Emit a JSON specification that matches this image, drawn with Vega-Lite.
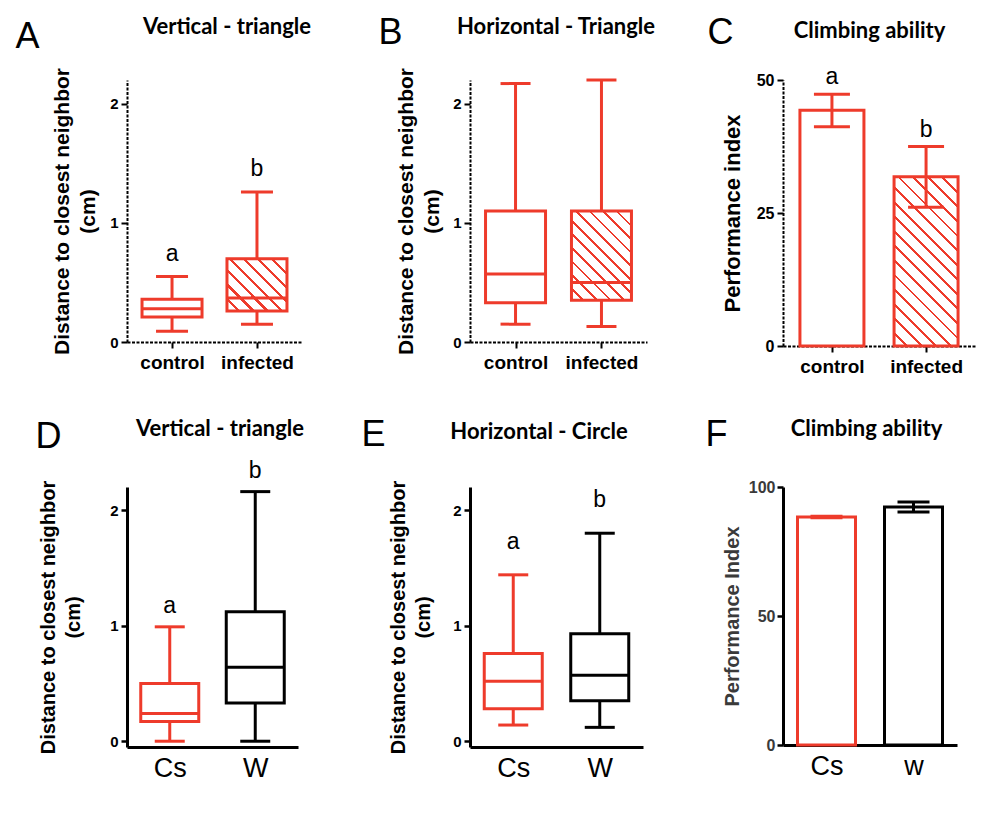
{
"$schema": "https://vega.github.io/schema/vega-lite/v6.json",
"background": "white",
"padding": {"left": 15, "top": 14, "right": 10, "bottom": 6},
"columns": 3,
"align": "each",
"spacing": {"row": 40, "column": 50},
"config": {"view": {"stroke": null}, "axis": {"grid": false, "domainColor": "black", "tickColor": "black", "labelColor": "black", "titleColor": "black"}},
"concat": [
{
"width": 175, "height": 262,
"data": {"values": [
{"group": "control", "min": 0.09, "q1": 0.21, "median": 0.28, "q3": 0.36, "max": 0.55, "sig": "a"},
{"group": "infected", "min": 0.15, "q1": 0.26, "median": 0.37, "q3": 0.70, "max": 1.26, "sig": "b"}]},
"resolve": {"axis": {"x": "independent"}},
"layer": [
{
"encoding": {"x": {"field": "group", "type": "nominal", "sort": null, "scale": {"type": "point", "padding": 0.53},
"axis": {"title": "A", "titleFont": "Liberation Sans", "titleFontSize": 36, "titleFontWeight": "normal", "titleX": -112, "titleY": -295, "titleAlign": "left", "titleBaseline": "alphabetic", "labelAngle": 0, "labelFont": "Liberation Sans", "labelFontSize": 19, "labelFontWeight": "bold", "labelPadding": 5, "tickSize": 6, "tickWidth": 2, "domainWidth": 2, "domainDash": [3, 1.5]}}},
"layer": [
{"mark": {"type": "rule", "color": "#ee3b2b", "strokeWidth": 3},
"encoding": {"y": {"field": "min", "type": "quantitative", "scale": {"domain": [0, 2.2], "nice": false},
"axis": {"title": ["Distance to closest neighbor", "(cm)"], "values": [0, 1, 2], "format": "d", "titleFont": "Liberation Sans", "titleFontSize": 21, "titleFontWeight": "bold", "titleLineHeight": 26, "titlePadding": 11, "labelFont": "Liberation Sans", "labelFontSize": 15, "labelFontWeight": "bold", "labelPadding": 3, "tickSize": 6, "tickWidth": 2, "domainWidth": 2, "domainDash": [3, 1.5]}},
"y2": {"field": "max"}}},
{"mark": {"type": "bar", "width": 60, "stroke": "#ee3b2b", "strokeWidth": 3},
"encoding": {"y": {"field": "q1", "type": "quantitative", "scale": {"domain": [0, 2.2], "nice": false}}, "y2": {"field": "q3"},
"fill": {"condition": {"test": "datum.group === 'infected'", "value": {"gradient": "linear", "x1": 0, "y1": 1, "x2": 1.063, "y2": 0.072, "stops": [
{"offset": 0, "color": "white"}, {"offset": 0.0975, "color": "white"}, {"offset": 0.0975, "color": "#ee3b2b"}, {"offset": 0.125, "color": "#ee3b2b"},
{"offset": 0.125, "color": "white"}, {"offset": 0.2225, "color": "white"}, {"offset": 0.2225, "color": "#ee3b2b"}, {"offset": 0.25, "color": "#ee3b2b"},
{"offset": 0.25, "color": "white"}, {"offset": 0.3475, "color": "white"}, {"offset": 0.3475, "color": "#ee3b2b"}, {"offset": 0.375, "color": "#ee3b2b"},
{"offset": 0.375, "color": "white"}, {"offset": 0.4725, "color": "white"}, {"offset": 0.4725, "color": "#ee3b2b"}, {"offset": 0.5, "color": "#ee3b2b"},
{"offset": 0.5, "color": "white"}, {"offset": 0.5975, "color": "white"}, {"offset": 0.5975, "color": "#ee3b2b"}, {"offset": 0.625, "color": "#ee3b2b"},
{"offset": 0.625, "color": "white"}, {"offset": 0.7225, "color": "white"}, {"offset": 0.7225, "color": "#ee3b2b"}, {"offset": 0.75, "color": "#ee3b2b"},
{"offset": 0.75, "color": "white"}, {"offset": 0.8475, "color": "white"}, {"offset": 0.8475, "color": "#ee3b2b"}, {"offset": 0.875, "color": "#ee3b2b"},
{"offset": 0.875, "color": "white"}, {"offset": 0.9725, "color": "white"}, {"offset": 0.9725, "color": "#ee3b2b"}, {"offset": 1, "color": "#ee3b2b"}]}}, "value": "white"}}},
{"mark": {"type": "tick", "color": "#ee3b2b", "thickness": 3, "size": 32, "opacity": 1},
"encoding": {"y": {"field": "min", "type": "quantitative", "scale": {"domain": [0, 2.2], "nice": false}}}},
{"mark": {"type": "tick", "color": "#ee3b2b", "thickness": 3, "size": 32, "opacity": 1},
"encoding": {"y": {"field": "max", "type": "quantitative", "scale": {"domain": [0, 2.2], "nice": false}}}},
{"mark": {"type": "text", "dy": -23, "fontSize": 23, "font": "Liberation Sans", "baseline": "middle", "color": "black"},
"encoding": {"y": {"field": "max", "type": "quantitative", "scale": {"domain": [0, 2.2], "nice": false}}, "text": {"field": "sig"}}}
]
},
{"mark": {"type": "tick", "color": "#ee3b2b", "thickness": 3, "size": 60, "opacity": 1},
"encoding": {"x": {"field": "group", "type": "nominal", "sort": null, "scale": {"type": "point", "padding": 0.53},
"axis": {"orient": "top", "title": "Vertical - triangle", "labels": false, "ticks": false, "domain": false, "titleFont": "Lato", "titleFontSize": 22, "titleFontWeight": "bold", "titleColor": "black", "titleX": 99.5, "titleY": -47, "titleBaseline": "alphabetic", "titleAlign": "center"}},
"y": {"field": "median", "type": "quantitative", "scale": {"domain": [0, 2.2], "nice": false}}}}
]
},
{
"width": 177, "height": 262,
"data": {"values": [
{"group": "control", "min": 0.15, "q1": 0.33, "median": 0.57, "q3": 1.10, "max": 2.17},
{"group": "infected", "min": 0.13, "q1": 0.35, "median": 0.50, "q3": 1.10, "max": 2.20}]},
"resolve": {"axis": {"x": "independent"}},
"layer": [
{
"encoding": {"x": {"field": "group", "type": "nominal", "sort": null, "scale": {"type": "point", "padding": 0.53},
"axis": {"title": "B", "titleFont": "Liberation Sans", "titleFontSize": 36, "titleFontWeight": "normal", "titleX": -92, "titleY": -299, "titleAlign": "left", "titleBaseline": "alphabetic", "labelAngle": 0, "labelFont": "Liberation Sans", "labelFontSize": 19, "labelFontWeight": "bold", "labelPadding": 5, "tickSize": 6, "tickWidth": 2, "domainWidth": 2, "domainDash": [3, 1.5]}}},
"layer": [
{"mark": {"type": "rule", "color": "#ee3b2b", "strokeWidth": 3},
"encoding": {"y": {"field": "min", "type": "quantitative", "scale": {"domain": [0, 2.2], "nice": false},
"axis": {"title": ["Distance to closest neighbor", "(cm)"], "values": [0, 1, 2], "format": "d", "titleFont": "Liberation Sans", "titleFontSize": 21, "titleFontWeight": "bold", "titleLineHeight": 26, "titlePadding": 10, "labelFont": "Liberation Sans", "labelFontSize": 15, "labelFontWeight": "bold", "labelPadding": 3, "tickSize": 6, "tickWidth": 2, "domainWidth": 2, "domainDash": [3, 1.5]}},
"y2": {"field": "max"}}},
{"mark": {"type": "bar", "width": 60, "stroke": "#ee3b2b", "strokeWidth": 3},
"encoding": {"y": {"field": "q1", "type": "quantitative", "scale": {"domain": [0, 2.2], "nice": false}}, "y2": {"field": "q3"},
"fill": {"condition": {"test": "datum.group === 'infected'", "value": {"gradient": "linear", "x1": 0, "y1": 1, "x2": 0.774, "y2": -0.152, "stops": [
{"offset": 0, "color": "white"}, {"offset": 0.0727, "color": "white"}, {"offset": 0.0727, "color": "#ee3b2b"}, {"offset": 0.0909, "color": "#ee3b2b"},
{"offset": 0.0909, "color": "white"}, {"offset": 0.1636, "color": "white"}, {"offset": 0.1636, "color": "#ee3b2b"}, {"offset": 0.1818, "color": "#ee3b2b"},
{"offset": 0.1818, "color": "white"}, {"offset": 0.2545, "color": "white"}, {"offset": 0.2545, "color": "#ee3b2b"}, {"offset": 0.2727, "color": "#ee3b2b"},
{"offset": 0.2727, "color": "white"}, {"offset": 0.3455, "color": "white"}, {"offset": 0.3455, "color": "#ee3b2b"}, {"offset": 0.3636, "color": "#ee3b2b"},
{"offset": 0.3636, "color": "white"}, {"offset": 0.4364, "color": "white"}, {"offset": 0.4364, "color": "#ee3b2b"}, {"offset": 0.4545, "color": "#ee3b2b"},
{"offset": 0.4545, "color": "white"}, {"offset": 0.5273, "color": "white"}, {"offset": 0.5273, "color": "#ee3b2b"}, {"offset": 0.5455, "color": "#ee3b2b"},
{"offset": 0.5455, "color": "white"}, {"offset": 0.6182, "color": "white"}, {"offset": 0.6182, "color": "#ee3b2b"}, {"offset": 0.6364, "color": "#ee3b2b"},
{"offset": 0.6364, "color": "white"}, {"offset": 0.7091, "color": "white"}, {"offset": 0.7091, "color": "#ee3b2b"}, {"offset": 0.7273, "color": "#ee3b2b"},
{"offset": 0.7273, "color": "white"}, {"offset": 0.8, "color": "white"}, {"offset": 0.8, "color": "#ee3b2b"}, {"offset": 0.8182, "color": "#ee3b2b"},
{"offset": 0.8182, "color": "white"}, {"offset": 0.8909, "color": "white"}, {"offset": 0.8909, "color": "#ee3b2b"}, {"offset": 0.9091, "color": "#ee3b2b"},
{"offset": 0.9091, "color": "white"}, {"offset": 0.9818, "color": "white"}, {"offset": 0.9818, "color": "#ee3b2b"}, {"offset": 1, "color": "#ee3b2b"}]}}, "value": "white"}}},
{"mark": {"type": "tick", "color": "#ee3b2b", "thickness": 3, "size": 30, "opacity": 1},
"encoding": {"y": {"field": "min", "type": "quantitative", "scale": {"domain": [0, 2.2], "nice": false}}}},
{"mark": {"type": "tick", "color": "#ee3b2b", "thickness": 3, "size": 30, "opacity": 1},
"encoding": {"y": {"field": "max", "type": "quantitative", "scale": {"domain": [0, 2.2], "nice": false}}}}
]
},
{"mark": {"type": "tick", "color": "#ee3b2b", "thickness": 3, "size": 60, "opacity": 1},
"encoding": {"x": {"field": "group", "type": "nominal", "sort": null, "scale": {"type": "point", "padding": 0.53},
"axis": {"orient": "top", "title": "Horizontal - Triangle", "labels": false, "ticks": false, "domain": false, "titleFont": "Lato", "titleFontSize": 22, "titleFontWeight": "bold", "titleColor": "black", "titleX": 85.5, "titleY": -47, "titleBaseline": "alphabetic", "titleAlign": "center"}},
"y": {"field": "median", "type": "quantitative", "scale": {"domain": [0, 2.2], "nice": false}}}}
]
},
{
"width": 192, "height": 266,
"data": {"values": [
{"group": "control", "mean": 44.3, "lo": 41.2, "hi": 47.3, "sig": "a"},
{"group": "infected", "mean": 31.8, "lo": 26.1, "hi": 37.5, "sig": "b"}]},
"resolve": {"axis": {"x": "independent"}},
"layer": [
{
"encoding": {"x": {"field": "group", "type": "nominal", "sort": null, "scale": {"type": "point", "padding": 0.52},
"axis": {"title": "C", "titleFont": "Liberation Sans", "titleFontSize": 36, "titleFontWeight": "normal", "titleX": -76, "titleY": -303, "titleAlign": "left", "titleBaseline": "alphabetic", "labelAngle": 0, "labelFont": "Liberation Sans", "labelFontSize": 19, "labelFontWeight": "bold", "labelPadding": 5, "tickSize": 6, "tickWidth": 2, "domainWidth": 2, "domainDash": [3, 1.5]}}},
"layer": [
{"mark": {"type": "bar", "width": 64, "stroke": "#ee3b2b", "strokeWidth": 3},
"encoding": {"y": {"field": "mean", "type": "quantitative", "scale": {"domain": [0, 50], "nice": false},
"axis": {"title": "Performance index", "values": [0, 25, 50], "titleFont": "Liberation Sans", "titleFontSize": 22, "titleFontWeight": "bold", "titlePadding": 12, "labelFont": "Liberation Sans", "labelFontSize": 16, "labelFontWeight": "bold", "labelPadding": 3, "tickSize": 6, "tickWidth": 2, "domainWidth": 2, "domainDash": [3, 1.5]}},
"fill": {"condition": {"test": "datum.group === 'infected'", "value": {"gradient": "linear", "x1": 0, "y1": 1, "x2": 0.456, "y2": -0.206, "stops": [
{"offset": 0, "color": "white"}, {"offset": 0.05, "color": "white"}, {"offset": 0.05, "color": "#ee3b2b"}, {"offset": 0.0625, "color": "#ee3b2b"},
{"offset": 0.0625, "color": "white"}, {"offset": 0.1125, "color": "white"}, {"offset": 0.1125, "color": "#ee3b2b"}, {"offset": 0.125, "color": "#ee3b2b"},
{"offset": 0.125, "color": "white"}, {"offset": 0.175, "color": "white"}, {"offset": 0.175, "color": "#ee3b2b"}, {"offset": 0.1875, "color": "#ee3b2b"},
{"offset": 0.1875, "color": "white"}, {"offset": 0.2375, "color": "white"}, {"offset": 0.2375, "color": "#ee3b2b"}, {"offset": 0.25, "color": "#ee3b2b"},
{"offset": 0.25, "color": "white"}, {"offset": 0.3, "color": "white"}, {"offset": 0.3, "color": "#ee3b2b"}, {"offset": 0.3125, "color": "#ee3b2b"},
{"offset": 0.3125, "color": "white"}, {"offset": 0.3625, "color": "white"}, {"offset": 0.3625, "color": "#ee3b2b"}, {"offset": 0.375, "color": "#ee3b2b"},
{"offset": 0.375, "color": "white"}, {"offset": 0.425, "color": "white"}, {"offset": 0.425, "color": "#ee3b2b"}, {"offset": 0.4375, "color": "#ee3b2b"},
{"offset": 0.4375, "color": "white"}, {"offset": 0.4875, "color": "white"}, {"offset": 0.4875, "color": "#ee3b2b"}, {"offset": 0.5, "color": "#ee3b2b"},
{"offset": 0.5, "color": "white"}, {"offset": 0.55, "color": "white"}, {"offset": 0.55, "color": "#ee3b2b"}, {"offset": 0.5625, "color": "#ee3b2b"},
{"offset": 0.5625, "color": "white"}, {"offset": 0.6125, "color": "white"}, {"offset": 0.6125, "color": "#ee3b2b"}, {"offset": 0.625, "color": "#ee3b2b"},
{"offset": 0.625, "color": "white"}, {"offset": 0.675, "color": "white"}, {"offset": 0.675, "color": "#ee3b2b"}, {"offset": 0.6875, "color": "#ee3b2b"},
{"offset": 0.6875, "color": "white"}, {"offset": 0.7375, "color": "white"}, {"offset": 0.7375, "color": "#ee3b2b"}, {"offset": 0.75, "color": "#ee3b2b"},
{"offset": 0.75, "color": "white"}, {"offset": 0.8, "color": "white"}, {"offset": 0.8, "color": "#ee3b2b"}, {"offset": 0.8125, "color": "#ee3b2b"},
{"offset": 0.8125, "color": "white"}, {"offset": 0.8625, "color": "white"}, {"offset": 0.8625, "color": "#ee3b2b"}, {"offset": 0.875, "color": "#ee3b2b"},
{"offset": 0.875, "color": "white"}, {"offset": 0.925, "color": "white"}, {"offset": 0.925, "color": "#ee3b2b"}, {"offset": 0.9375, "color": "#ee3b2b"},
{"offset": 0.9375, "color": "white"}, {"offset": 0.9875, "color": "white"}, {"offset": 0.9875, "color": "#ee3b2b"}, {"offset": 1, "color": "#ee3b2b"}]}}, "value": "white"}}},
{"mark": {"type": "rule", "color": "#ee3b2b", "strokeWidth": 3},
"encoding": {"y": {"field": "lo", "type": "quantitative", "scale": {"domain": [0, 50], "nice": false}}, "y2": {"field": "hi"}}},
{"mark": {"type": "tick", "color": "#ee3b2b", "thickness": 3, "size": 36, "opacity": 1},
"encoding": {"y": {"field": "lo", "type": "quantitative", "scale": {"domain": [0, 50], "nice": false}}}},
{"mark": {"type": "text", "dy": -17, "fontSize": 23, "font": "Liberation Sans", "baseline": "middle", "color": "black"},
"encoding": {"y": {"field": "hi", "type": "quantitative", "scale": {"domain": [0, 50], "nice": false}}, "text": {"field": "sig"}}}
]
},
{"mark": {"type": "tick", "color": "#ee3b2b", "thickness": 3, "size": 36, "opacity": 1},
"encoding": {"x": {"field": "group", "type": "nominal", "sort": null, "scale": {"type": "point", "padding": 0.52},
"axis": {"orient": "top", "title": "Climbing ability", "labels": false, "ticks": false, "domain": false, "titleFont": "Lato", "titleFontSize": 22, "titleFontWeight": "bold", "titleColor": "black", "titleX": 86, "titleY": -43, "titleBaseline": "alphabetic", "titleAlign": "center"}},
"y": {"field": "hi", "type": "quantitative", "scale": {"domain": [0, 50], "nice": false}}}}
]
},
{
"width": 171, "height": 260,
"data": {"values": [
{"group": "Cs", "min": 0.0, "q1": 0.17, "median": 0.24, "q3": 0.50, "max": 0.99, "sig": "a"},
{"group": "W", "min": 0.0, "q1": 0.33, "median": 0.64, "q3": 1.12, "max": 2.16, "sig": "b"}]},
"resolve": {"axis": {"x": "independent"}},
"layer": [
{
"encoding": {"x": {"field": "group", "type": "nominal", "sort": null, "scale": {"type": "point", "padding": 0.5},
"axis": {"title": "D", "titleFont": "Liberation Sans", "titleFontSize": 36, "titleFontWeight": "normal", "titleX": -92, "titleY": -300, "titleAlign": "left", "titleBaseline": "alphabetic", "labelAngle": 0, "labelFont": "Liberation Sans", "labelFontSize": 27, "labelFontWeight": "normal", "labelPadding": 8, "ticks": false, "domainWidth": 3}}},
"layer": [
{"mark": {"type": "rule", "strokeWidth": 3},
"encoding": {"color": {"field": "group", "type": "nominal", "scale": {"domain": ["Cs", "W", "w"], "range": ["#ee3b2b", "black", "black"]}, "legend": null},
"y": {"field": "min", "type": "quantitative", "scale": {"domain": [-0.05, 2.2], "nice": false, "zero": false},
"axis": {"title": ["Distance to closest neighbor", "(cm)"], "values": [0, 1, 2], "format": "d", "titleFont": "Liberation Sans", "titleFontSize": 20, "titleFontWeight": "bold", "titleLineHeight": 25, "titlePadding": 26, "labelFont": "Liberation Sans", "labelFontSize": 15, "labelFontWeight": "bold", "labelPadding": 3, "tickSize": 6, "tickWidth": 2.5, "domainWidth": 3}},
"y2": {"field": "max"}}},
{"mark": {"type": "bar", "width": 58, "strokeWidth": 3, "fill": "white"},
"encoding": {"stroke": {"field": "group", "type": "nominal", "scale": {"domain": ["Cs", "W", "w"], "range": ["#ee3b2b", "black", "black"]}, "legend": null},
"y": {"field": "q1", "type": "quantitative", "scale": {"domain": [-0.05, 2.2], "nice": false, "zero": false}}, "y2": {"field": "q3"}}},
{"mark": {"type": "tick", "thickness": 3, "size": 30, "opacity": 1},
"encoding": {"color": {"field": "group", "type": "nominal", "legend": null}, "y": {"field": "min", "type": "quantitative", "scale": {"domain": [-0.05, 2.2], "nice": false, "zero": false}}}},
{"mark": {"type": "tick", "thickness": 3, "size": 30, "opacity": 1},
"encoding": {"color": {"field": "group", "type": "nominal", "legend": null}, "y": {"field": "max", "type": "quantitative", "scale": {"domain": [-0.05, 2.2], "nice": false, "zero": false}}}},
{"mark": {"type": "text", "dy": -21, "fontSize": 23, "font": "Liberation Sans", "baseline": "middle", "color": "black"},
"encoding": {"y": {"field": "max", "type": "quantitative", "scale": {"domain": [-0.05, 2.2], "nice": false, "zero": false}}, "text": {"field": "sig"}}}
]
},
{"mark": {"type": "tick", "thickness": 3, "size": 58, "opacity": 1},
"encoding": {"color": {"field": "group", "type": "nominal", "legend": null},
"x": {"field": "group", "type": "nominal", "sort": null, "scale": {"type": "point", "padding": 0.5},
"axis": {"orient": "top", "title": "Vertical - triangle", "labels": false, "ticks": false, "domain": false, "titleFont": "Lato", "titleFontSize": 22, "titleFontWeight": "bold", "titleColor": "black", "titleX": 92.5, "titleY": -52, "titleBaseline": "alphabetic", "titleAlign": "center"}},
"y": {"field": "median", "type": "quantitative", "scale": {"domain": [-0.05, 2.2], "nice": false, "zero": false}}}}
]
},
{
"width": 173, "height": 260,
"data": {"values": [
{"group": "Cs", "min": 0.14, "q1": 0.28, "median": 0.52, "q3": 0.76, "max": 1.44, "sig": "a"},
{"group": "W", "min": 0.12, "q1": 0.35, "median": 0.57, "q3": 0.93, "max": 1.80, "sig": "b"}]},
"resolve": {"axis": {"x": "independent"}},
"layer": [
{
"encoding": {"x": {"field": "group", "type": "nominal", "sort": null, "scale": {"type": "point", "padding": 0.5},
"axis": {"title": "E", "titleFont": "Liberation Sans", "titleFontSize": 36, "titleFontWeight": "normal", "titleX": -109, "titleY": -302, "titleAlign": "left", "titleBaseline": "alphabetic", "labelAngle": 0, "labelFont": "Liberation Sans", "labelFontSize": 27, "labelFontWeight": "normal", "labelPadding": 8, "ticks": false, "domainWidth": 3}}},
"layer": [
{"mark": {"type": "rule", "strokeWidth": 3},
"encoding": {"color": {"field": "group", "type": "nominal", "scale": {"domain": ["Cs", "W", "w"], "range": ["#ee3b2b", "black", "black"]}, "legend": null},
"y": {"field": "min", "type": "quantitative", "scale": {"domain": [-0.05, 2.2], "nice": false, "zero": false},
"axis": {"title": ["Distance to closest neighbor", "(cm)"], "values": [0, 1, 2], "format": "d", "titleFont": "Liberation Sans", "titleFontSize": 20, "titleFontWeight": "bold", "titleLineHeight": 25, "titlePadding": 19, "labelFont": "Liberation Sans", "labelFontSize": 15, "labelFontWeight": "bold", "labelPadding": 3, "tickSize": 6, "tickWidth": 2.5, "domainWidth": 3}},
"y2": {"field": "max"}}},
{"mark": {"type": "bar", "width": 58, "strokeWidth": 3, "fill": "white"},
"encoding": {"stroke": {"field": "group", "type": "nominal", "scale": {"domain": ["Cs", "W", "w"], "range": ["#ee3b2b", "black", "black"]}, "legend": null},
"y": {"field": "q1", "type": "quantitative", "scale": {"domain": [-0.05, 2.2], "nice": false, "zero": false}}, "y2": {"field": "q3"}}},
{"mark": {"type": "tick", "thickness": 3, "size": 30, "opacity": 1},
"encoding": {"color": {"field": "group", "type": "nominal", "legend": null}, "y": {"field": "min", "type": "quantitative", "scale": {"domain": [-0.05, 2.2], "nice": false, "zero": false}}}},
{"mark": {"type": "tick", "thickness": 3, "size": 30, "opacity": 1},
"encoding": {"color": {"field": "group", "type": "nominal", "legend": null}, "y": {"field": "max", "type": "quantitative", "scale": {"domain": [-0.05, 2.2], "nice": false, "zero": false}}}},
{"mark": {"type": "text", "dy": -33, "fontSize": 23, "font": "Liberation Sans", "baseline": "middle", "color": "black"},
"encoding": {"y": {"field": "max", "type": "quantitative", "scale": {"domain": [-0.05, 2.2], "nice": false, "zero": false}}, "text": {"field": "sig"}}}
]
},
{"mark": {"type": "tick", "thickness": 3, "size": 58, "opacity": 1},
"encoding": {"color": {"field": "group", "type": "nominal", "legend": null},
"x": {"field": "group", "type": "nominal", "sort": null, "scale": {"type": "point", "padding": 0.5},
"axis": {"orient": "top", "title": "Horizontal - Circle", "labels": false, "ticks": false, "domain": false, "titleFont": "Lato", "titleFontSize": 22, "titleFontWeight": "bold", "titleColor": "black", "titleX": 68.5, "titleY": -49, "titleBaseline": "alphabetic", "titleAlign": "center"}},
"y": {"field": "median", "type": "quantitative", "scale": {"domain": [-0.05, 2.2], "nice": false, "zero": false}}}}
]
},
{
"width": 174, "height": 258,
"data": {"values": [
{"group": "Cs", "mean": 88.4, "lo": 88.1, "hi": 88.7},
{"group": "w", "mean": 92.2, "lo": 90.3, "hi": 94.2}]},
"resolve": {"axis": {"x": "independent"}},
"layer": [
{
"encoding": {"x": {"field": "group", "type": "nominal", "sort": null, "scale": {"type": "point", "padding": 0.5},
"axis": {"title": "F", "titleFont": "Liberation Sans", "titleFontSize": 36, "titleFontWeight": "normal", "titleX": -78, "titleY": -300, "titleAlign": "left", "titleBaseline": "alphabetic", "labelAngle": 0, "labelFont": "Liberation Sans", "labelFontSize": 27, "labelFontWeight": "normal", "labelPadding": 8, "ticks": false, "domainWidth": 3}}},
"layer": [
{"mark": {"type": "bar", "width": 58, "strokeWidth": 3, "fill": "white"},
"encoding": {"stroke": {"field": "group", "type": "nominal", "scale": {"domain": ["Cs", "W", "w"], "range": ["#ee3b2b", "black", "black"]}, "legend": null},
"y": {"field": "mean", "type": "quantitative", "scale": {"domain": [0, 100], "nice": false},
"axis": {"title": "Performance Index", "values": [0, 50, 100], "titleFont": "Liberation Sans", "titleFontSize": 20, "titleFontWeight": "bold", "titleColor": "#3a3a3a", "titlePadding": 6, "labelFont": "Liberation Sans", "labelFontSize": 16, "labelFontWeight": "bold", "labelColor": "#3a3a3a", "labelPadding": 2, "tickSize": 6, "tickWidth": 2.5, "domainWidth": 3}}}},
{"mark": {"type": "rule", "strokeWidth": 3},
"encoding": {"color": {"field": "group", "type": "nominal", "scale": {"domain": ["Cs", "W", "w"], "range": ["#ee3b2b", "black", "black"]}, "legend": null},
"y": {"field": "lo", "type": "quantitative", "scale": {"domain": [0, 100], "nice": false}}, "y2": {"field": "hi"}}},
{"mark": {"type": "tick", "thickness": 3, "size": 32, "opacity": 1},
"encoding": {"color": {"field": "group", "type": "nominal", "legend": null}, "y": {"field": "lo", "type": "quantitative", "scale": {"domain": [0, 100], "nice": false}}}}
]
},
{"mark": {"type": "tick", "thickness": 3, "size": 32, "opacity": 1},
"encoding": {"color": {"field": "group", "type": "nominal", "legend": null},
"x": {"field": "group", "type": "nominal", "sort": null, "scale": {"type": "point", "padding": 0.5},
"axis": {"orient": "top", "title": "Climbing ability", "labels": false, "ticks": false, "domain": false, "titleFont": "Lato", "titleFontSize": 22, "titleFontWeight": "bold", "titleColor": "black", "titleX": 83, "titleY": -52, "titleBaseline": "alphabetic", "titleAlign": "center"}},
"y": {"field": "hi", "type": "quantitative", "scale": {"domain": [0, 100], "nice": false}}}}
]
}
]
}
